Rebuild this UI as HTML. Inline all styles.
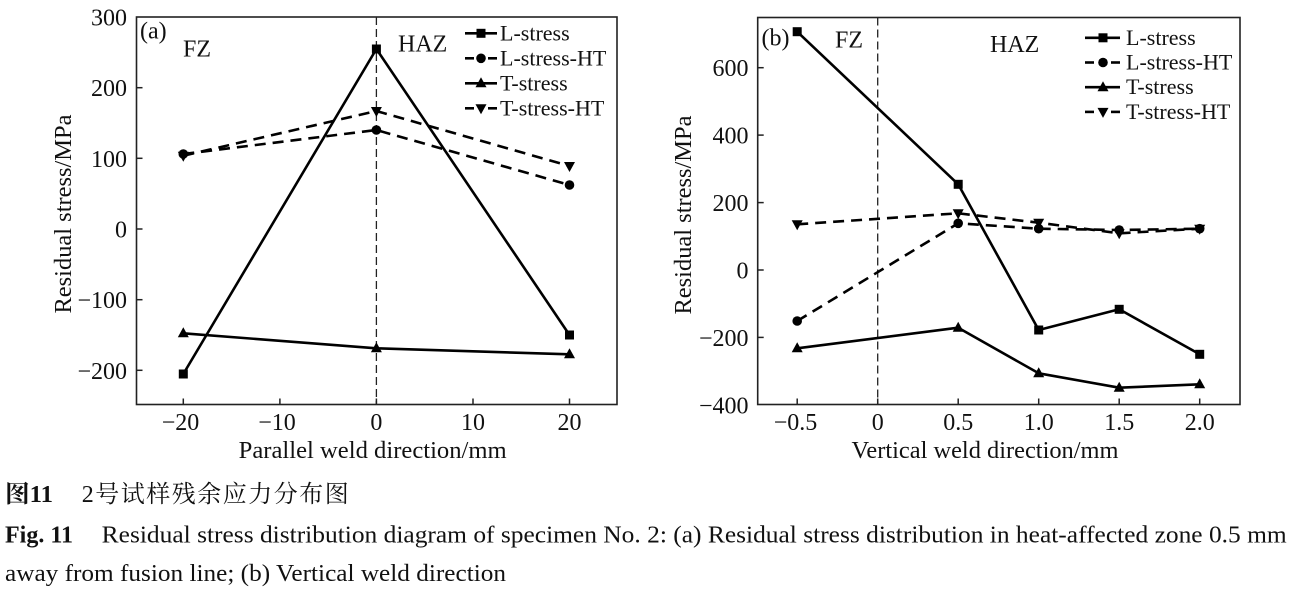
<!DOCTYPE html>
<html>
<head>
<meta charset="utf-8">
<style>
html,body{margin:0;padding:0;background:#fff;}
svg{display:block;}
text{font-family:"Liberation Serif",serif;fill:#111;}
text.cjk{font-family:"Liberation Serif","Noto Serif CJK SC",serif;}
</style>
</head>
<body>
<svg width="1295" height="596" viewBox="0 0 1295 596" xmlns="http://www.w3.org/2000/svg">
<rect x="0" y="0" width="1295" height="596" fill="#fff"/>

<!-- ================= LEFT CHART (a) ================= -->
<g>
  <line x1="376.4" y1="17" x2="376.4" y2="404.5" stroke="#222" stroke-width="1.3" stroke-dasharray="8,4"/>
  <rect x="136.5" y="17" width="480.5" height="387.5" fill="none" stroke="#222" stroke-width="1.6"/>
  <g stroke="#222" stroke-width="1.5">
    <line x1="136.5" y1="87.7" x2="142.5" y2="87.7"/>
    <line x1="136.5" y1="158.3" x2="142.5" y2="158.3"/>
    <line x1="136.5" y1="229" x2="142.5" y2="229"/>
    <line x1="136.5" y1="299.7" x2="142.5" y2="299.7"/>
    <line x1="136.5" y1="370.3" x2="142.5" y2="370.3"/>
    <line x1="183.3" y1="404.5" x2="183.3" y2="398.5"/>
    <line x1="279.9" y1="404.5" x2="279.9" y2="398.5"/>
    <line x1="376.4" y1="404.5" x2="376.4" y2="398.5"/>
    <line x1="473" y1="404.5" x2="473" y2="398.5"/>
    <line x1="569.5" y1="404.5" x2="569.5" y2="398.5"/>
  </g>
  <g font-size="24" text-anchor="end">
    <text x="127" y="25.5">300</text>
    <text x="127" y="96.2">200</text>
    <text x="127" y="166.8">100</text>
    <text x="127" y="237.5">0</text>
    <text x="127" y="308.2">−100</text>
    <text x="127" y="378.8">−200</text>
  </g>
  <g font-size="24" text-anchor="middle">
    <text x="180.5" y="430">−20</text>
    <text x="277" y="430">−10</text>
    <text x="376.4" y="430">0</text>
    <text x="473" y="430">10</text>
    <text x="569.5" y="430">20</text>
  </g>
  <text x="372.7" y="458" font-size="24" text-anchor="middle" textLength="268" lengthAdjust="spacingAndGlyphs">Parallel weld direction/mm</text>
  <text x="71" y="214" font-size="24" text-anchor="middle" transform="rotate(-90 71 214)" textLength="199" lengthAdjust="spacingAndGlyphs">Residual stress/MPa</text>

  <text x="140" y="38.5" font-size="24">(a)</text>
  <text x="183" y="56.5" font-size="24">FZ</text>
  <text x="398" y="51.7" font-size="24">HAZ</text>

  <g fill="none" stroke="#000" stroke-width="2.6" stroke-linejoin="round">
    <polyline points="183.3,374 376.4,49 569.5,335"/>
    <polyline points="183.3,333.3 376.4,348.3 569.5,354.3"/>
    <polyline points="183.3,154 376.4,130 569.5,185" stroke-dasharray="11,7"/>
    <polyline points="183.3,155.7 376.4,111 569.5,166" stroke-dasharray="11,7"/>
  </g>
  <g fill="#000">
    <rect x="178.8" y="369.5" width="9" height="9"/>
    <rect x="371.9" y="44.5" width="9" height="9"/>
    <rect x="565" y="330.5" width="9" height="9"/>
    <circle cx="183.3" cy="154" r="4.8"/>
    <circle cx="376.4" cy="130" r="4.8"/>
    <circle cx="569.5" cy="185" r="4.8"/>
    <polygon points="183.3,327.3 177.8,337.3 188.8,337.3"/>
    <polygon points="376.4,342.3 370.9,352.3 381.9,352.3"/>
    <polygon points="569.5,348.3 564,358.3 575,358.3"/>
    <polygon points="177.8,151.7 188.8,151.7 183.3,161.7"/>
    <polygon points="370.9,107 381.9,107 376.4,117"/>
    <polygon points="564,162 575,162 569.5,172"/>
  </g>

  <g stroke="#000" stroke-width="2.6">
    <line x1="465" y1="33.3" x2="497" y2="33.3"/>
    <line x1="465" y1="58.3" x2="474" y2="58.3"/>
    <line x1="488" y1="58.3" x2="497" y2="58.3"/>
    <line x1="465" y1="83.3" x2="497" y2="83.3"/>
    <line x1="465" y1="108.3" x2="474" y2="108.3"/>
    <line x1="488" y1="108.3" x2="497" y2="108.3"/>
  </g>
  <g fill="#000">
    <rect x="476.5" y="28.8" width="9" height="9"/>
    <circle cx="481" cy="58.3" r="4.8"/>
    <polygon points="481,77.3 475.5,87.3 486.5,87.3"/>
    <polygon points="475.5,104.3 486.5,104.3 481,114.3"/>
  </g>
  <g font-size="22">
    <text x="500" y="40.7">L-stress</text>
    <text x="500" y="65.7">L-stress-HT</text>
    <text x="500" y="90.7">T-stress</text>
    <text x="500" y="115.7">T-stress-HT</text>
  </g>
</g>

<!-- ================= RIGHT CHART (b) ================= -->
<g>
  <line x1="877.7" y1="17.5" x2="877.7" y2="404.5" stroke="#222" stroke-width="1.3" stroke-dasharray="8,4"/>
  <rect x="757.7" y="17.5" width="482.3" height="387" fill="none" stroke="#222" stroke-width="1.6"/>
  <g stroke="#222" stroke-width="1.5">
    <line x1="757.7" y1="67.7" x2="763.7" y2="67.7"/>
    <line x1="757.7" y1="135.1" x2="763.7" y2="135.1"/>
    <line x1="757.7" y1="202.6" x2="763.7" y2="202.6"/>
    <line x1="757.7" y1="270" x2="763.7" y2="270"/>
    <line x1="757.7" y1="337.4" x2="763.7" y2="337.4"/>
    <line x1="797.2" y1="404.5" x2="797.2" y2="398.5"/>
    <line x1="877.7" y1="404.5" x2="877.7" y2="398.5"/>
    <line x1="958.2" y1="404.5" x2="958.2" y2="398.5"/>
    <line x1="1038.7" y1="404.5" x2="1038.7" y2="398.5"/>
    <line x1="1119.2" y1="404.5" x2="1119.2" y2="398.5"/>
    <line x1="1199.7" y1="404.5" x2="1199.7" y2="398.5"/>
  </g>
  <g font-size="24" text-anchor="end">
    <text x="748.5" y="76.2">600</text>
    <text x="748.5" y="143.6">400</text>
    <text x="748.5" y="211.1">200</text>
    <text x="748.5" y="278.5">0</text>
    <text x="748.5" y="345.9">−200</text>
    <text x="748.5" y="413.4">−400</text>
  </g>
  <g font-size="24" text-anchor="middle">
    <text x="795.5" y="430">−0.5</text>
    <text x="877.7" y="430">0</text>
    <text x="958.2" y="430">0.5</text>
    <text x="1038.7" y="430">1.0</text>
    <text x="1119.2" y="430">1.5</text>
    <text x="1199.7" y="430">2.0</text>
  </g>
  <text x="985" y="458" font-size="24" text-anchor="middle" textLength="267" lengthAdjust="spacingAndGlyphs">Vertical weld direction/mm</text>
  <text x="691" y="215" font-size="24" text-anchor="middle" transform="rotate(-90 691 215)" textLength="199" lengthAdjust="spacingAndGlyphs">Residual stress/MPa</text>

  <text x="761.5" y="45.5" font-size="24">(b)</text>
  <text x="835" y="47.7" font-size="24">FZ</text>
  <text x="990" y="52" font-size="24">HAZ</text>

  <g fill="none" stroke="#000" stroke-width="2.6" stroke-linejoin="round">
    <polyline points="797.2,31.7 958.2,184.3 1038.7,330 1119.2,309.3 1199.7,354.3"/>
    <polyline points="797.2,348.3 958.2,327.7 1038.7,373.3 1119.2,387.7 1199.7,384.3"/>
    <polyline points="797.2,321 958.2,223.3 1038.7,228.7 1119.2,230 1199.7,228.7" stroke-dasharray="11,7"/>
    <polyline points="797.2,224.3 958.2,213.3 1038.7,222.7 1119.2,233.3 1199.7,228.7" stroke-dasharray="11,7"/>
  </g>
  <g fill="#000">
    <rect x="792.7" y="27.2" width="9" height="9"/>
    <rect x="953.7" y="179.8" width="9" height="9"/>
    <rect x="1034.2" y="325.5" width="9" height="9"/>
    <rect x="1114.7" y="304.8" width="9" height="9"/>
    <rect x="1195.2" y="349.8" width="9" height="9"/>
    <circle cx="797.2" cy="321" r="4.8"/>
    <circle cx="958.2" cy="223.3" r="4.8"/>
    <circle cx="1038.7" cy="228.7" r="4.8"/>
    <circle cx="1119.2" cy="230" r="4.8"/>
    <circle cx="1199.7" cy="228.7" r="4.8"/>
    <polygon points="797.2,342.3 791.7,352.3 802.7,352.3"/>
    <polygon points="958.2,321.7 952.7,331.7 963.7,331.7"/>
    <polygon points="1038.7,367.3 1033.2,377.3 1044.2,377.3"/>
    <polygon points="1119.2,381.7 1113.7,391.7 1124.7,391.7"/>
    <polygon points="1199.7,378.3 1194.2,388.3 1205.2,388.3"/>
    <polygon points="791.7,220.3 802.7,220.3 797.2,230.3"/>
    <polygon points="952.7,209.3 963.7,209.3 958.2,219.3"/>
    <polygon points="1033.2,218.7 1044.2,218.7 1038.7,228.7"/>
    <polygon points="1113.7,229.3 1124.7,229.3 1119.2,239.3"/>
    <polygon points="1194.2,224.7 1205.2,224.7 1199.7,234.7"/>
  </g>

  <g stroke="#000" stroke-width="2.6">
    <line x1="1085" y1="37.8" x2="1120" y2="37.8"/>
    <line x1="1085" y1="62.5" x2="1094" y2="62.5"/>
    <line x1="1111" y1="62.5" x2="1120" y2="62.5"/>
    <line x1="1085" y1="87.2" x2="1120" y2="87.2"/>
    <line x1="1085" y1="111.9" x2="1094" y2="111.9"/>
    <line x1="1111" y1="111.9" x2="1120" y2="111.9"/>
  </g>
  <g fill="#000">
    <rect x="1098.5" y="33.3" width="9" height="9"/>
    <circle cx="1103" cy="62.5" r="4.8"/>
    <polygon points="1103,81.2 1097.5,91.2 1108.5,91.2"/>
    <polygon points="1097.5,107.9 1108.5,107.9 1103,117.9"/>
  </g>
  <g font-size="22">
    <text x="1126" y="44.8">L-stress</text>
    <text x="1126" y="69.5">L-stress-HT</text>
    <text x="1126" y="94.2">T-stress</text>
    <text x="1126" y="118.9">T-stress-HT</text>
  </g>
</g>

<!-- ================= CAPTION ================= -->
<g font-size="24">
  <text class="cjk" x="5" y="502" font-weight="bold" textLength="48" lengthAdjust="spacingAndGlyphs">图11</text>
  <text class="cjk" x="81.7" y="502" textLength="267" lengthAdjust="spacing">2号试样残余应力分布图</text>
  <text x="5" y="542.5" font-weight="bold" textLength="68" lengthAdjust="spacingAndGlyphs">Fig. 11</text>
  <text x="101.7" y="542.5" textLength="1185" lengthAdjust="spacingAndGlyphs">Residual stress distribution diagram of specimen No. 2: (a) Residual stress distribution in heat-affected zone 0.5 mm</text>
  <text x="5" y="581" textLength="501" lengthAdjust="spacingAndGlyphs">away from fusion line; (b) Vertical weld direction</text>
</g>
</svg>
</body>
</html>
